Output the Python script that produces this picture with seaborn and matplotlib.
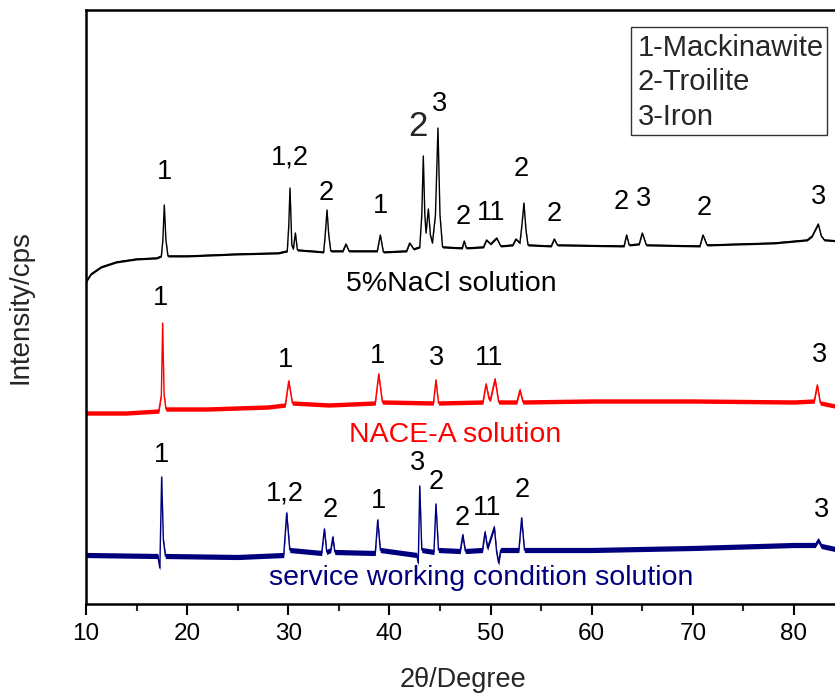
import matplotlib
matplotlib.use("Agg")
import matplotlib.pyplot as plt
import seaborn as sns
import numpy as np
from matplotlib.patches import Rectangle

# 2theta / intensity points (arbitrary cps units)
nacl_x = [10.0, 10.5, 11.5, 13.0, 15.0, 17.0, 17.45, 17.6, 17.74, 17.9, 18.1, 20.0, 25.0, 29.0,
          29.9, 30.05, 30.17, 30.35, 30.5, 30.7, 30.9, 33.5, 33.65, 33.83, 34.0, 34.2, 35.4, 35.7,
          36.0, 38.8, 39.1, 39.4, 41.7, 42.0, 42.4, 43.0, 43.2, 43.35, 43.5, 43.62, 43.85, 44.05,
          44.25, 44.55, 44.8, 45.0, 45.25, 47.2, 47.4, 47.6, 49.3, 49.6, 50.0, 50.6, 51.0, 52.2,
          52.5, 52.9, 53.1, 53.3, 53.5, 53.7, 56.0, 56.3, 56.6, 63.2, 63.45, 63.7, 64.7, 65.0,
          65.4, 70.7, 71.0, 71.4, 78.0, 81.3, 81.8, 82.1, 82.4, 82.7, 83.0, 84.55]
nacl_y = [322, 330, 337, 342, 345, 346, 348, 364, 399, 364, 348, 348, 350, 351,
          353, 379, 416, 359, 355, 371, 354, 352, 369, 394, 369, 353, 353, 360,
          353, 353, 369, 352, 353, 361, 355, 357, 389, 448, 389, 371, 395, 369,
          361, 389, 476, 389, 357, 356, 363, 356, 357, 364, 360, 366, 358, 359,
          365, 361, 379, 401, 374, 359, 358, 365, 359, 358, 369, 359, 360, 371,
          359, 358, 369, 359, 361, 364, 368, 374, 380, 368, 364, 363]

nace_x = [10.0, 14.0, 17.2, 17.45, 17.58, 17.72, 17.9, 22.0, 28.0, 29.7, 30.04, 30.4, 34.0,
          38.6, 38.94, 39.3, 44.35, 44.6, 44.85, 49.25, 49.55, 49.85, 50.0, 50.44, 50.8, 52.6,
          52.9, 53.2, 60.0, 70.0, 80.0, 82.0, 82.3, 82.6, 84.55]
nace_y = [191, 191, 193, 209, 281, 209, 195, 195, 197, 199, 223, 201, 199,
          201, 230, 202, 201, 224, 201, 202, 220, 205, 205, 225, 202, 202,
          214, 202, 203, 203, 202, 203, 219, 201, 197]

swc_x = [10.0, 17.1, 17.3, 17.48, 17.65, 17.85, 25.0, 29.55, 29.84, 30.15, 33.3, 33.57, 33.8,
         34.2, 34.4, 34.6, 38.6, 38.84, 39.1, 42.7, 42.85, 43.0, 43.2, 44.4, 44.6, 44.85, 47.0,
         47.25, 47.5, 49.2, 49.45, 49.7, 50.37, 50.6, 50.8, 51.0, 52.8, 53.07, 53.35, 60.0,
         70.0, 80.0, 82.1, 82.4, 82.7, 84.55]
swc_y = [49, 48, 36, 127, 64, 48, 47, 49, 91, 54, 51, 75, 52,
         54, 67, 52, 51, 84, 54, 49, 41, 118, 54, 52, 100, 54, 53,
         69, 53, 54, 72, 56, 77, 52, 41, 54, 54, 86, 54, 54,
         56, 59, 59, 64, 58, 54]

# phase labels: text, 2theta, height
nacl_lab = ["1", "1,2", "2", "1", "3", "2", "11", "2", "2", "2", "3", "2", "3"]
nacl_lab_x = [17.8, 30.2, 33.7, 39.1, 45.0, 47.3, 50.1, 53.0, 56.3, 62.9, 65.1, 71.1, 82.4]
nacl_lab_y = [432, 447, 411, 398, 500, 387, 391, 435, 390, 402, 405, 396, 407]
big_lab, big_lab_x, big_lab_y = "2", 42.8, 477

nace_lab = ["1", "1", "1", "3", "11", "3"]
nace_lab_x = [17.4, 29.7, 38.8, 44.7, 49.9, 82.5]
nace_lab_y = [306, 244, 248, 246, 246, 249]

swc_lab = ["1", "1,2", "2", "1", "3", "2", "2", "11", "2", "3"]
swc_lab_x = [17.5, 29.7, 34.1, 38.9, 42.8, 44.6, 47.2, 49.7, 53.1, 82.7]
swc_lab_y = [149, 111, 94, 103, 141, 122, 86, 96, 114, 94]

legend_lines = ["1-Mackinawite", "2-Troilite", "3-Iron"]

sns.set_theme(style="ticks")
plt.rcParams["font.family"] = ["Liberation Sans", "DejaVu Sans"]

fig = plt.figure(figsize=(8.35, 6.93), dpi=100)
ax = fig.add_axes([86 / 835, 89 / 693, 754 / 835, 594 / 693])

traces = [(nacl_x, nacl_y, "black", 1.0),
          (nace_x, nace_y, "#ff0000", 2.2),
          (swc_x, swc_y, "#00007f", 2.6)]
for xs, ys, col, noise in traces:
    xs, ys = np.array(xs), np.array(ys)
    ax.fill_between(xs, ys - noise, ys + noise, color=col, lw=0)
    sns.lineplot(x=xs, y=ys, color=col, lw=1.0, ax=ax)

for labs, lx, ly in [(nacl_lab, nacl_lab_x, nacl_lab_y),
                     (nace_lab, nace_lab_x, nace_lab_y),
                     (swc_lab, swc_lab_x, swc_lab_y)]:
    for s, x, y in zip(labs, lx, ly):
        ax.text(x, y, s, ha="center", va="center", fontsize=19.5, color="black")
ax.text(big_lab_x, big_lab_y, big_lab, ha="center", va="center", fontsize=25)

ax.text(46.15, 320, "5%NaCl solution", ha="center", va="center", fontsize=20.5, color="black")
ax.text(46.5, 169, "NACE-A solution", ha="center", va="center", fontsize=20.5, color="#ff0000")
ax.text(49.1, 26, "service working condition solution", ha="center", va="center",
        fontsize=20.5, color="#00007f")

ax.add_patch(Rectangle((63.9, 469), 19.4, 108, fill=False, ec="#333333", lw=1.0))
for i, s in enumerate(legend_lines):
    ax.text(64.55, 556 - 34.5 * i, s, ha="left", va="center", fontsize=21)

ax.set_xlim(10, 84.55)
ax.set_ylim(0, 594)
ax.set_yticks([])
ax.set_xticks(range(10, 81, 10))
ax.set_xticks(range(15, 85, 10), minor=True)
ax.tick_params(axis="x", which="major", direction="out", length=8, width=1.5, pad=6,
               labelsize=17.5, colors="black")
ax.tick_params(axis="x", which="minor", direction="out", length=5, width=1.5)
for side in ["left", "bottom", "top", "right"]:
    ax.spines[side].set_linewidth(1.8)
    ax.spines[side].set_color("black")

ax.set_xlabel("2θ/Degree", fontsize=19.5)
ax.xaxis.label.set_va("center")
ax.xaxis.set_label_coords(0.5, -0.128)
ax.set_ylabel("Intensity/cps", fontsize=20)
ax.yaxis.label.set_va("center")
ax.yaxis.set_label_coords(-0.087, 0.5)

fig.savefig("out.png", dpi=100)
